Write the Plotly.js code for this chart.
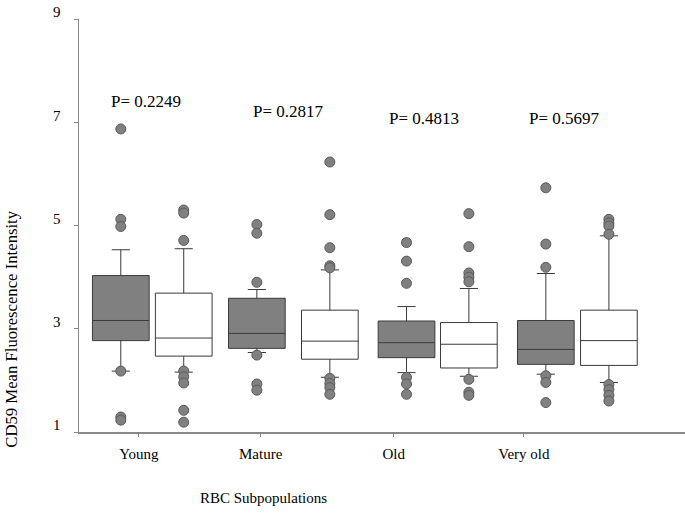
<!DOCTYPE html>
<html>
<head>
<meta charset="utf-8">
<script src="https://cdn.plot.ly/plotly-3.0.1.min.js"></script>
<style>html,body{margin:0;padding:0;background:#fff}#chart{width:685px;height:513px}</style>
</head>
<body>
<div id="chart"></div>
<script>
// ---- data ----
const categories = ["Young", "Mature", "Old", "Very old"];
const pValues = ["P= 0.2249", "P= 0.2817", "P= 0.4813", "P= 0.5697"];

// grey series
const greyQ1 = [2.77, 2.62, 2.44, 2.31];
const greyMedian = [3.16, 2.91, 2.73, 2.60];
const greyQ3 = [4.03, 3.59, 3.15, 3.16];
const greyLower = [2.18, 2.54, 2.15, 2.12];
const greyUpper = [4.53, 3.76, 3.43, 4.07];
const greyOutliers = [
  [6.87, 5.12, 4.98, 2.18, 1.29, 1.23],
  [5.02, 4.85, 3.90, 2.49, 1.93, 1.81],
  [4.67, 4.31, 3.88, 2.06, 1.93, 1.73],
  [5.73, 4.64, 4.19, 2.09, 1.96, 1.57]
];

// white series
const whiteQ1 = [2.47, 2.41, 2.24, 2.29];
const whiteMedian = [2.82, 2.76, 2.70, 2.77];
const whiteQ3 = [3.69, 3.36, 3.12, 3.36];
const whiteLower = [2.16, 2.06, 2.08, 1.96];
const whiteUpper = [4.55, 4.14, 3.78, 4.80];
const whiteOutliers = [
  [5.30, 5.24, 4.71, 2.18, 2.07, 1.95, 1.42, 1.19],
  [6.23, 5.21, 4.57, 4.22, 4.18, 2.04, 1.94, 1.86, 1.73],
  [5.23, 4.59, 4.08, 4.00, 3.91, 2.02, 1.77, 1.71],
  [5.12, 5.05, 4.99, 4.83, 1.92, 1.82, 1.71, 1.60]
];

const yTicks = [1, 3, 5, 7, 9];

// ---- layout helpers (positions, not data) ----
const greyOffset = [-0.220, -0.260, -0.204, -0.221];
const whiteOffset = [0.224, 0.255, 0.236, 0.224];
const boxWidth = 0.40;
const labelShift = [-0.092, -0.233, -0.294, -0.376];
const pShift = [-0.04, -0.04, -0.08, -0.09];
const pY = [7.40, 7.21, 7.07, 7.07];

const idx = categories.map((_, i) => i);
const serif = "Liberation Serif, DejaVu Serif, serif";

function boxTrace(offset, q1, med, q3, lo, hi, fill) {
  return {
    type: "box",
    x: idx.map(i => i + offset[i]),
    q1: q1, median: med, q3: q3, lowerfence: lo, upperfence: hi,
    width: boxWidth,
    fillcolor: fill,
    line: {color: "#3a3a3a", width: 1},
    whiskerwidth: 0.32,
    boxpoints: false,
    hoverinfo: "skip",
    showlegend: false
  };
}
function outlierTrace(offset, arr) {
  const xs = [], ys = [];
  arr.forEach((vals, i) => vals.forEach(v => { xs.push(i + offset[i]); ys.push(v); }));
  return {
    type: "scatter", mode: "markers", x: xs, y: ys,
    marker: {size: 10, color: "#808080", line: {color: "#5a5a5a", width: 1}},
    hoverinfo: "skip", showlegend: false
  };
}

const traces = [
  boxTrace(greyOffset, greyQ1, greyMedian, greyQ3, greyLower, greyUpper, "#808080"),
  boxTrace(whiteOffset, whiteQ1, whiteMedian, whiteQ3, whiteLower, whiteUpper, "#ffffff"),
  outlierTrace(greyOffset, greyOutliers),
  outlierTrace(whiteOffset, whiteOutliers)
];

const annotations = categories.map((c, i) => ({
  x: i + pShift[i], y: pY[i], xref: "x", yref: "y",
  text: pValues[i], showarrow: false,
  font: {family: serif, size: 17, color: "#000"}
}));
annotations.push({
  xref: "paper", yref: "paper", x: -0.1106, y: 0.25,
  xanchor: "center", yanchor: "middle",
  text: "CD59 Mean Fluorescence Intensity", textangle: -90, showarrow: false,
  font: {family: serif, size: 16.7, color: "#000"}
});
annotations.push({
  xref: "paper", yref: "paper", x: 0.305, y: -0.16,
  xanchor: "center", yanchor: "middle",
  text: "RBC Subpopulations", showarrow: false,
  font: {family: serif, size: 15, color: "#000"}
});

const layout = {
  width: 685, height: 513,
  margin: {l: 79, r: 0, t: 19, b: 81},
  paper_bgcolor: "#fff", plot_bgcolor: "#fff",
  showlegend: false,
  boxmode: "overlay",
  font: {family: serif, size: 15, color: "#000"},
  xaxis: {
    range: [-0.515, 3.761],
    tickvals: idx.map(i => i + labelShift[i]),
    ticktext: categories,
    ticks: "outside", ticklen: 3, tickcolor: "#888",
    showline: true, linecolor: "#888", linewidth: 1.5,
    showgrid: false, zeroline: false,
    tickfont: {family: serif, size: 15, color: "#000"},
    ticklabelstandoff: 4
  },
  yaxis: {
    range: [1, 9],
    tickvals: yTicks,
    ticktext: yTicks.map(String),
    ticks: "outside", ticklen: 4, tickcolor: "#888",
    showline: true, linecolor: "#888", linewidth: 1.5,
    showgrid: false, zeroline: false,
    tickfont: {family: serif, size: 15, color: "#000"},
    ticklabelshift: -7,
    ticklabelstandoff: 10
  },
  annotations: annotations
};

Plotly.newPlot("chart", traces, layout, {staticPlot: true, displayModeBar: false});
</script>
</body>
</html>
